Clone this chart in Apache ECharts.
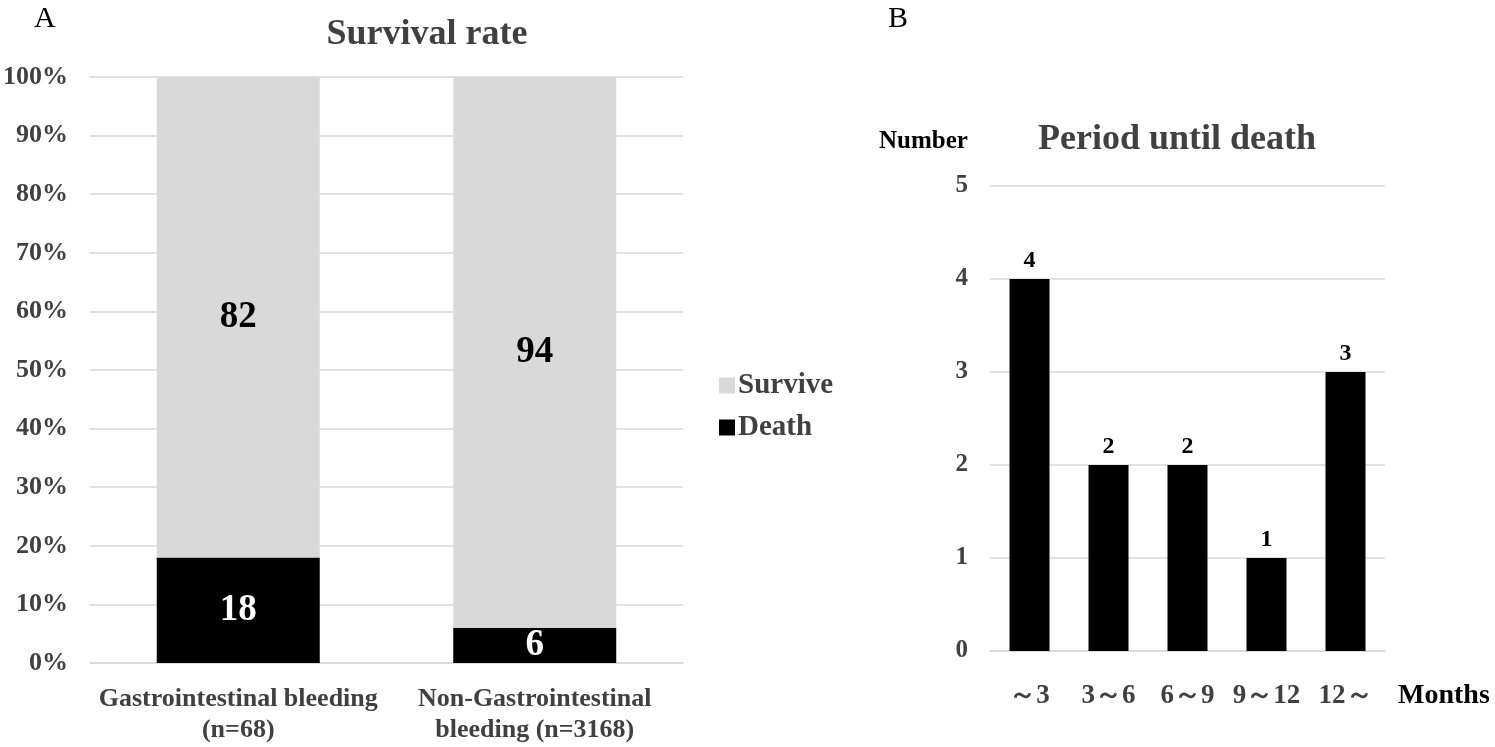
<!DOCTYPE html>
<html lang="en">
<head>
  <meta charset="UTF-8" />
  <title>Survival rate / Period until death</title>
  <script src="https://cdn.jsdelivr.net/npm/echarts@6/dist/echarts.min.js"></script>
  <style>
    html, body { margin: 0; padding: 0; background: #fff; }
    #chart { width: 1495px; height: 747px; }
  </style>
</head>
<body>
  <div id="chart"></div>
  <script>
    // panel A
    var groups = ["Gastrointestinal bleeding\n(n=68)", "Non-Gastrointestinal\nbleeding (n=3168)"];
    var deathPct = [18, 6];
    var survivePct = [82, 94];
    // panel B
    var periods = ["～3", "3～6", "6～9", "9～12", "12～"];
    var deathCount = [4, 2, 2, 1, 3];

    var serif = "'Liberation Serif', 'Times New Roman', serif";
    var grey = "#404040";
    var gridLine = "#d9d9d9";

    var chart = echarts.init(document.getElementById("chart"));
    chart.setOption({
      animation: false,
      textStyle: { fontFamily: serif },
      title: [
        { text: "Survival rate", left: 422, top: 12, textAlign: "center",
          textStyle: { fontFamily: serif, fontSize: 36, fontWeight: "bold", color: grey } },
        { text: "Period until death", left: 1172, top: 117, textAlign: "center",
          textStyle: { fontFamily: serif, fontSize: 36, fontWeight: "bold", color: grey } }
      ],
      graphic: [
        { type: "text", left: 34, top: 4, style: { text: "A", font: "30px " + serif, fill: "#000" } },
        { type: "text", left: 888, top: 4, style: { text: "B", font: "30px " + serif, fill: "#000" } },
        { type: "text", left: 879, top: 129, style: { text: "Number", font: "bold 25px " + serif, fill: "#000" } },
        { type: "text", left: 1398, top: 682, style: { text: "Months", font: "bold 28px " + serif, fill: "#000" } }
      ],
      legend: {
        orient: "vertical",
        left: 714,
        top: 366,
        itemWidth: 16,
        itemHeight: 16,
        itemGap: 13,
        icon: "rect",
        data: ["Survive", "Death"],
        textStyle: { fontFamily: serif, fontSize: 29, fontWeight: "bold", color: grey, padding: [0, 0, 0, -2] }
      },
      grid: [
        { left: 90, right: 812, top: 77, bottom: 84 },
        { left: 990, right: 110, top: 186, bottom: 96 }
      ],
      xAxis: [
        {
          type: "category", gridIndex: 0, data: groups,
          axisLine: { lineStyle: { color: gridLine, width: 1.5 } },
          axisTick: { show: false },
          axisLabel: { interval: 0, margin: 21, fontFamily: serif, fontSize: 26, fontWeight: "bold", color: grey, lineHeight: 31 }
        },
        {
          type: "category", gridIndex: 1, data: periods,
          axisLine: { lineStyle: { color: gridLine, width: 1.5 } },
          axisTick: { show: false },
          axisLabel: { interval: 0, margin: 32, fontFamily: serif, fontSize: 27, fontWeight: "bold", color: grey }
        }
      ],
      yAxis: [
        {
          type: "value", gridIndex: 0, min: 0, max: 100, interval: 10,
          axisLine: { show: false }, axisTick: { show: false },
          splitLine: { lineStyle: { color: gridLine, width: 1.5 } },
          axisLabel: { formatter: "{value}%", margin: 22, fontFamily: serif, fontSize: 26, fontWeight: "bold", color: grey }
        },
        {
          type: "value", gridIndex: 1, min: 0, max: 5, interval: 1,
          axisLine: { show: false }, axisTick: { show: false },
          splitLine: { lineStyle: { color: gridLine, width: 1.5 } },
          axisLabel: { margin: 22, fontFamily: serif, fontSize: 25, fontWeight: "bold", color: grey }
        }
      ],
      series: [
        {
          name: "Death", type: "bar", stack: "a", xAxisIndex: 0, yAxisIndex: 0,
          data: deathPct, barWidth: 163,
          itemStyle: { color: "#000" },
          label: { show: true, position: "inside", fontFamily: serif, fontSize: 37, fontWeight: "bold", color: "#fff" }
        },
        {
          name: "Survive", type: "bar", stack: "a", xAxisIndex: 0, yAxisIndex: 0,
          data: survivePct, barWidth: 163,
          itemStyle: { color: "#d9d9d9" },
          label: { show: true, position: "inside", fontFamily: serif, fontSize: 37, fontWeight: "bold", color: "#000" }
        },
        {
          name: "Period", type: "bar", xAxisIndex: 1, yAxisIndex: 1,
          data: deathCount, barWidth: 40,
          itemStyle: { color: "#000" },
          label: { show: true, position: "top", distance: 6, fontFamily: serif, fontSize: 24, fontWeight: "bold", color: "#000" }
        }
      ]
    });
  </script>
</body>
</html>
